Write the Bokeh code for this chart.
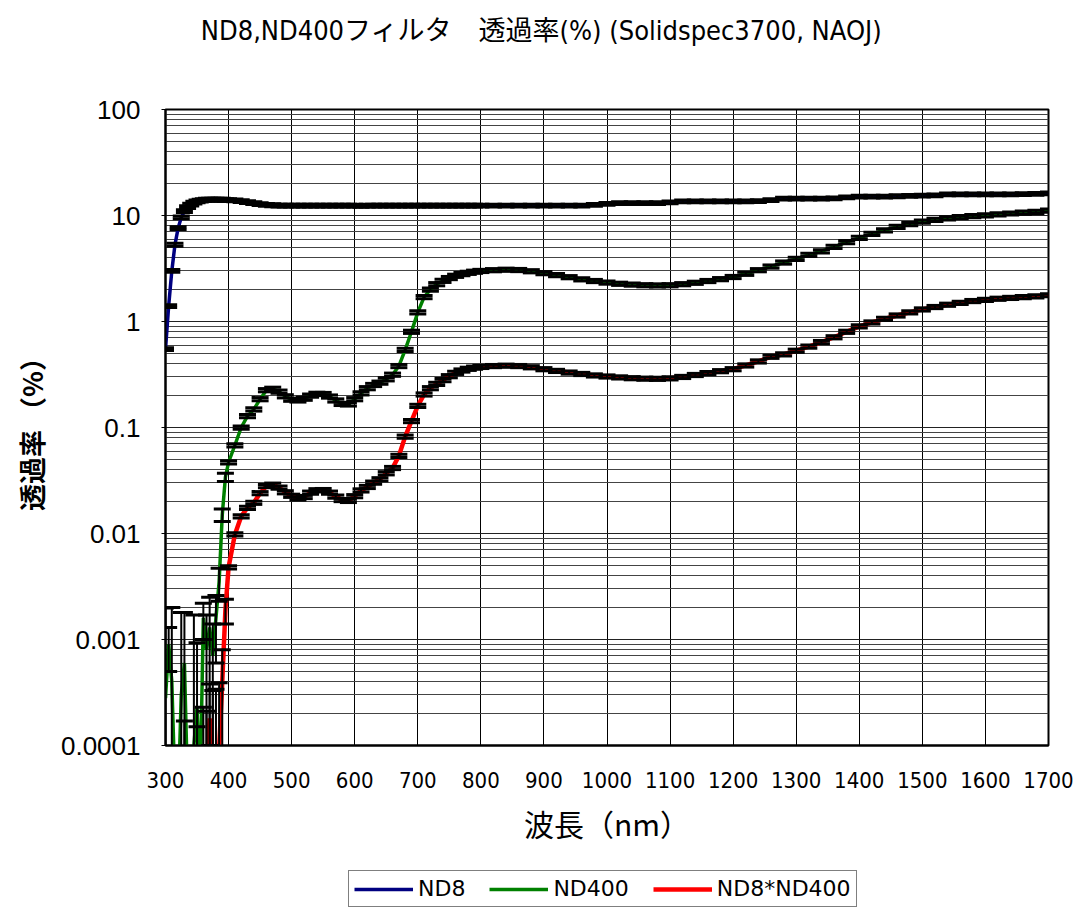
from bokeh.plotting import figure
from bokeh.layouts import column
from bokeh.models import (FixedTicker, CustomJSTickFormatter, Label, Legend, LegendItem,
                          Range1d, ColumnDataSource)
from bokeh.embed import file_html
from bokeh.resources import INLINE

# ---------------- data ----------------
wl_uv = [300, 305, 310, 315, 320, 325, 330, 335, 340, 345,
         350, 355, 360, 365, 370, 375, 380, 385, 390, 395]
wl_vis = list(range(400, 801, 10))
wl_nir = list(range(820, 1701, 20))
wavelength = wl_uv + wl_vis + wl_nir

nd8_uv = [0.55, 1.4, 3.0, 5.3, 7.6, 9.6, 11.0, 12.0, 12.7, 13.2,
          13.6, 13.8, 14.0, 14.1, 14.1, 14.1, 14.1, 14.1, 14.1, 14.0]
nd8_vis = [14.0, 13.9, 13.7, 13.4, 13.1, 12.8, 12.6, 12.5, 12.4, 12.4,
           12.4, 12.4, 12.4, 12.4, 12.4, 12.4, 12.4, 12.4, 12.4, 12.4,
           12.4, 12.3, 12.4, 12.4, 12.4, 12.4, 12.4, 12.4, 12.4, 12.4,
           12.4, 12.4, 12.4, 12.4, 12.4, 12.4, 12.4, 12.4, 12.4, 12.4, 12.4]
nd8_nir = [12.4, 12.4, 12.4, 12.4, 12.4, 12.4, 12.4, 12.4, 12.6, 12.9,
           13.1, 13.1, 13.1, 13.1, 13.3, 13.6, 13.6, 13.6, 13.6, 13.6,
           13.6, 13.7, 14.0, 14.4, 14.4, 14.4, 14.4, 14.5, 14.8, 15.1,
           15.1, 15.1, 15.2, 15.3, 15.4, 15.5, 15.8, 15.8, 15.8, 15.8,
           15.8, 15.8, 15.9, 16.0, 16.2]

nd400_uv = [0.00028, 0.0009, 0.0004, 0.00004, 0.00003, 0.0003, 0.0006, 0.00004, 0.00003, 0.0001,
            0.00023, 0.00004, 0.0016, 0.0008, 0.0013, 0.0007, 0.0016, 0.0035, 0.015, 0.034]
nd400_vis = [0.047, 0.068, 0.1, 0.128, 0.148, 0.185, 0.225, 0.232, 0.218, 0.197,
             0.183, 0.18, 0.187, 0.2, 0.208, 0.207, 0.196, 0.18, 0.167, 0.165,
             0.185, 0.21, 0.235, 0.252, 0.265, 0.285, 0.315, 0.38, 0.54, 0.8,
             1.22, 1.7, 2.0, 2.25, 2.42, 2.57, 2.7, 2.8, 2.88, 2.95, 3.0]
nd400_nir = [3.05, 3.08, 3.06, 2.98, 2.86, 2.74, 2.62, 2.5, 2.41, 2.33,
             2.27, 2.23, 2.2, 2.19, 2.2, 2.25, 2.32, 2.41, 2.51, 2.63,
             2.82, 3.05, 3.3, 3.6, 3.9, 4.25, 4.6, 5.05, 5.6, 6.15,
             6.7, 7.25, 7.8, 8.3, 8.75, 9.1, 9.4, 9.65, 9.85, 10.05,
             10.25, 10.45, 10.65, 10.85, 11.1]

prod_uv = [0.00003, 0.00003, 0.00003, 0.00003, 0.00003, 0.00003, 0.00003, 0.00003, 0.00003, 0.00003,
           0.00003, 0.00003, 0.00003, 0.00006, 0.00018, 0.00008, 0.00004, 0.00009, 0.0004, 0.0019]
prod_vis = [0.0048, 0.0098, 0.0145, 0.0175, 0.0195, 0.024, 0.028, 0.0289, 0.0271, 0.0245,
            0.0227, 0.0214, 0.0221, 0.0243, 0.0256, 0.0257, 0.0243, 0.0223, 0.0207, 0.0203,
            0.0225, 0.0255, 0.0275, 0.0302, 0.0325, 0.037, 0.0415, 0.054, 0.082, 0.115,
            0.16, 0.205, 0.235, 0.258, 0.28, 0.305, 0.328, 0.345, 0.358, 0.367, 0.373]
prod_nir = [0.38, 0.383, 0.38, 0.37, 0.355, 0.342, 0.33, 0.32, 0.31, 0.303,
            0.297, 0.292, 0.289, 0.288, 0.291, 0.3, 0.313, 0.326, 0.34, 0.355,
            0.385, 0.42, 0.465, 0.49, 0.53, 0.58, 0.64, 0.71, 0.8, 0.9,
            0.98, 1.06, 1.14, 1.22, 1.3, 1.37, 1.44, 1.5, 1.56, 1.6,
            1.64, 1.67, 1.7, 1.73, 1.77]

nd8 = nd8_uv + nd8_vis + nd8_nir
nd400 = nd400_uv + nd400_vis + nd400_nir
nd8_nd400 = prod_uv + prod_vis + prod_nir

# measurement uncertainty (absolute, UV part) and relative uncertainty elsewhere
nd400_err_uv = [0.0017, 0.0004, 0.0016, 0, 0, 0.0015, 0.0012, 0, 0, 0.0016,
                0.0007, 0, 0.0006, 0.0009, 0.0012, 0.0007, 0.001, 0.0012, 0.002, 0.003]
prod_err_uv = [0, 0, 0, 0, 0, 0, 0.00014, 0, 0, 0,
               0.00012, 0, 0.0002, 0.00015, 0.0002, 0.00025, 0.0003, 0.0003, 0.0004, 0.0005]
nd8_rel_err = 0.03
rel_err = 0.035

y_ticks = [0.0001, 0.001, 0.01, 0.1, 1, 10, 100]
y_minor = [m * d for d in [0.0001, 0.001, 0.01, 0.1, 1, 10] for m in range(2, 10)]
x_ticks = list(range(300, 1701, 100))

series_names = ["ND8", "ND400", "ND8*ND400"]
series_colors = ["#000080", "#008000", "#ff0000"]
series_widths = [3.5, 3.5, 4.5]
title_text = "ND8,ND400フィルタ　透過率(%) (Solidspec3700, NAOJ)"

assert len(nd8) == len(nd400) == len(nd8_nd400) == len(wavelength)


def bounds(vals, err_uv, rel):
    lo, hi = [], []
    for i, v in enumerate(vals):
        if err_uv is not None and i < len(err_uv):
            e = err_uv[i]
        else:
            e = rel * v
        lo.append(max(v - e, 1e-7))
        hi.append(v + e)
    return lo, hi


NARROW = "Liberation Sans Narrow, DejaVu Sans Condensed, Arial Narrow, sans-serif"


def blank(fig):
    fig.axis.visible = False
    fig.grid.visible = False
    fig.outline_line_color = None
    fig.background_fill_color = "white"
    fig.border_fill_color = "white"


# ---------------- title strip (its frame is aligned with the main frame: x = page px) ----------------
pt = figure(width=1075, height=60, x_range=Range1d(165, 1048), y_range=Range1d(0, 60),
            output_backend="svg", toolbar_location=None,
            min_border_left=165, min_border_right=27, min_border_top=0, min_border_bottom=0)
blank(pt)
pt.add_layout(Label(x=541, y=30, text=title_text, text_align="center", text_baseline="middle",
                    text_font=NARROW + ", Noto Sans CJK JP", text_font_size="27px",
                    text_color="black"))

# ---------------- main plot ----------------
p = figure(width=1075, height=809, x_range=Range1d(300, 1700), y_range=Range1d(0.0001, 100),
           y_axis_type="log", output_backend="svg", toolbar_location=None,
           min_border_left=165, min_border_right=27, min_border_top=49, min_border_bottom=124)
p.background_fill_color = "white"
p.border_fill_color = "white"
p.outline_line_color = "black"
p.outline_line_width = 2

p.xaxis.ticker = FixedTicker(ticks=x_ticks)
p.yaxis.ticker = FixedTicker(ticks=y_ticks, minor_ticks=y_minor)
p.yaxis.formatter = CustomJSTickFormatter(code="return tick.toString();")

p.xgrid.grid_line_color = "black"
p.xgrid.grid_line_width = 1
p.ygrid.grid_line_color = "#222222"
p.ygrid.grid_line_width = 1.2
p.ygrid.minor_grid_line_color = "#444444"
p.ygrid.minor_grid_line_width = 1.2

for ax in (p.xaxis[0], p.yaxis[0]):
    ax.axis_line_width = 2
    ax.axis_line_color = "black"
    ax.minor_tick_line_color = None
    ax.major_tick_in = 0

p.xaxis.major_tick_out = 0
p.yaxis.major_tick_out = 4
p.xaxis.major_label_text_font = NARROW
p.xaxis.major_label_text_font_size = "22px"
p.xaxis.major_label_standoff = 26
p.xaxis.major_label_text_color = "black"
p.yaxis.major_label_text_font = "Liberation Sans, Arial, sans-serif"
p.yaxis.major_label_text_font_size = "26px"
p.yaxis.major_label_standoff = 21
p.yaxis.major_label_text_color = "black"

p.xaxis.axis_label = "波長（nm）"
p.xaxis.axis_label_text_font = "Noto Sans CJK JP"
p.xaxis.axis_label_text_font_size = "30px"
p.xaxis.axis_label_text_font_style = "normal"
p.xaxis.axis_label_text_color = "black"
p.xaxis.axis_label_standoff = 10
p.yaxis.axis_label = "透過率 （%）"
p.yaxis.axis_label_text_font = "Noto Sans CJK JP"
p.yaxis.axis_label_text_font_size = "27px"
p.yaxis.axis_label_text_font_style = "bold"
p.yaxis.axis_label_text_color = "black"
p.yaxis.axis_label_standoff = 7

# lines
for vals, c, w in zip([nd8, nd400, nd8_nd400], series_colors, series_widths):
    p.line(wavelength, vals, line_color=c, line_width=w)

# error bars (black, drawn on top)
for vals, err_uv, rel in [(nd8, None, nd8_rel_err), (nd400, nd400_err_uv, rel_err),
                          (nd8_nd400, prod_err_uv, rel_err)]:
    lo, hi = bounds(vals, err_uv, rel)
    src = ColumnDataSource(dict(x=wavelength, lo=lo, hi=hi))
    p.segment(x0="x", y0="lo", x1="x", y1="hi", source=src, line_color="black", line_width=2)
    p.scatter(x="x", y="lo", source=src, marker="dash", size=17, line_color="black", line_width=3)
    p.scatter(x="x", y="hi", source=src, marker="dash", size=17, line_color="black", line_width=3)

# ---------------- legend strip ----------------
pl = figure(width=1075, height=38, x_range=Range1d(165, 1048), y_range=Range1d(0, 1),
            output_backend="svg", toolbar_location=None,
            min_border_left=165, min_border_right=27, min_border_top=0, min_border_bottom=0)
blank(pl)
# legend-only renderers, placed outside the visible range
leg_renderers = [pl.line([0, 1], [-5, -5], line_color=c, line_width=w)
                 for c, w in zip(series_colors, series_widths)]
legend = Legend(items=[LegendItem(label=n, renderers=[r]) for n, r in zip(series_names, leg_renderers)],
                location=(183, 0), orientation="horizontal",
                glyph_width=59, glyph_height=20, label_standoff=5, spacing=24,
                padding=5, margin=0, border_line_color="black", border_line_width=1,
                background_fill_alpha=1,
                label_text_font="DejaVu Sans", label_text_font_size="22px", label_text_color="black")
pl.add_layout(legend)

layout = column(pt, p, pl, spacing=0)
open("out.html", "w").write(file_html(layout, INLINE))
